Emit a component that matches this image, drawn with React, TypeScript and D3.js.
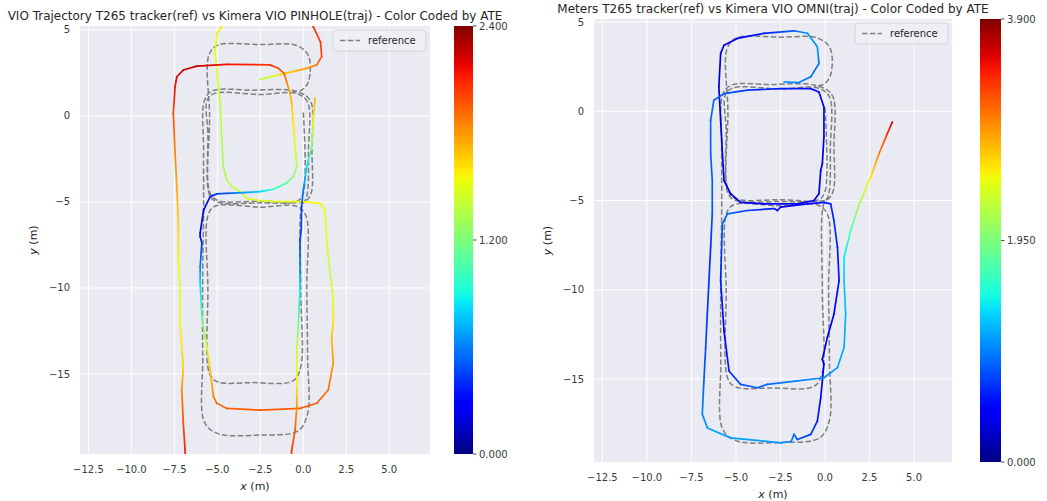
import React from "react";
import * as d3 from "d3";

// ---------------- DATA ----------------
const xTicks = [-12.5, -10, -7.5, -5, -2.5, 0, 2.5, 5];
const yTicks = [5, 0, -5, -10, -15];
const leftCbTicks = [0, 1.2, 2.4];
const rightCbTicks = [0, 1.95, 3.9];
const leftTitle = "VIO Trajectory T265 tracker(ref) vs Kimera VIO PINHOLE(traj) - Color Coded by ATE";
const rightTitle = "Meters T265 tracker(ref) vs Kimera VIO OMNI(traj) - Color Coded by ATE";
const legendLabel = "reference";

// reference (T265) trajectory [x, y]
const referencePath: [number, number][] = [
  [0.0, 0.2], [0.0, -4.5], [-0.35, -4.95], [-2.5, -5.05], [-5.0, -5.0], [-5.45, -4.6], [-5.55, -1.0],
  [-5.6, 0.9], [-5.2, 1.3], [-2.5, 1.25], [-0.4, 1.3], [0.25, 0.8], [0.3, -2.0], [0.2, -4.7],
  [-0.1, -5.3], [-0.15, -10.0], [-0.15, -14.6], [-0.6, -15.4], [-3.0, -15.5], [-5.0, -15.45],
  [-5.45, -15.0], [-5.55, -10.0], [-5.55, -5.8], [-5.15, -5.25], [-2.5, -5.3], [-0.4, -5.25],
  [0.15, -5.8], [0.2, -10.0], [0.25, -14.0], [0.25, -17.3], [-0.3, -18.3], [-2.5, -18.55],
  [-5.0, -18.45], [-5.75, -17.8], [-5.85, -14.0], [-5.85, -9.0], [-5.8, -5.5], [-5.8, -2.0],
  [-5.75, 0.9], [-5.3, 1.45], [-3.0, 1.5], [-0.5, 1.45], [0.4, 0.9], [0.5, -2.0], [0.45, -4.5],
  [0.1, -4.95], [-2.5, -4.95], [-5.0, -4.9], [-5.45, -4.4], [-5.45, 0.0], [-5.5, 3.5], [-5.0, 4.1],
  [-2.5, 4.15], [-0.4, 4.1], [0.3, 3.5], [0.3, 2.0], [-0.1, 1.5], [-0.6, 1.4],
];

// left estimate (PINHOLE) [x, y, ATE]
const leftTrajA: [number, number, number][] = [
  [0.4, 5.6, 2.1], [0.58, 5.19, 2.05], [1.0, 4.3, 2.05], [1.07, 3.45, 2.0], [0.78, 2.97, 1.9],
  [0.2, 2.77, 1.8], [-1.06, 2.48, 1.65], [-1.8, 2.3, 1.5], [-2.52, 2.13, 1.35],
];
const leftTrajB: [number, number, number][] = [
  [-4.6, 5.6, 1.55], [-4.74, 5.2, 1.55], [-5.03, 4.8, 1.55], [-5.13, 3.65, 1.5], [-4.94, 1.7, 1.45],
  [-4.84, 0.74, 1.4], [-4.74, -1.4, 1.35], [-4.65, -2.95, 1.3], [-4.45, -3.72, 1.35], [-4.16, -4.1, 1.4],
  [-3.68, -4.4, 1.4], [-3.29, -4.79, 1.45], [-2.52, -4.92, 1.45], [-1.55, -4.98, 1.5], [0.0, -4.98, 1.55],
  [0.97, -5.08, 1.55], [1.26, -5.47, 1.55], [1.36, -7.2, 1.5], [1.55, -9.1, 1.4], [1.74, -10.65, 1.5],
  [1.74, -12.0, 1.6], [1.65, -12.83, 1.7], [1.74, -14.38, 1.8], [1.45, -15.93, 1.9], [0.78, -16.7, 1.95],
  [-0.19, -17.0, 1.95], [-2.52, -17.1, 1.95], [-4.45, -17.0, 1.95], [-5.03, -16.7, 1.9], [-5.23, -16.3, 1.85],
  [-5.42, -14.77, 1.7], [-5.62, -13.4, 1.5], [-5.9, -11.67, 1.1], [-6.0, -9.7, 0.8], [-6.0, -8.76, 0.6],
  [-5.9, -7.4, 0.4], [-6.0, -7.0, 0.25], [-6.0, -6.8, 0.2], [-5.8, -5.47, 0.2], [-5.42, -4.69, 0.35],
  [-5.03, -4.53, 0.45], [-4.45, -4.5, 0.5], [-3.49, -4.46, 0.65], [-2.52, -4.4, 0.8], [-1.74, -4.26, 0.95],
  [-0.97, -3.9, 1.1], [-0.58, -3.53, 1.25], [-0.38, -2.95, 1.35], [-0.48, -1.78, 1.5], [-0.6, -0.23, 1.6],
  [-0.67, 0.74, 1.7], [-0.77, 1.3, 1.75], [-0.97, 2.0, 1.85], [-1.12, 2.48, 1.95], [-1.45, 2.77, 2.0],
  [-1.94, 2.97, 2.05], [-4.45, 3.0, 2.15], [-6.2, 2.9, 2.25], [-6.98, 2.67, 2.25], [-7.36, 2.28, 2.2],
  [-7.46, 1.7, 2.15], [-7.56, 0.16, 2.0], [-7.46, -2.17, 1.85], [-7.36, -4.1, 1.75], [-7.27, -6.24, 1.65],
  [-7.27, -8.18, 1.55], [-7.17, -10.1, 1.5], [-7.17, -12.05, 1.55], [-6.98, -14.6, 1.65], [-7.07, -15.9, 1.85],
  [-6.98, -17.86, 2.0], [-6.88, -19.4, 2.1], [-6.85, -20.3, 2.15],
];
const leftTrajC: [number, number, number][] = [
  [0.68, 1.03, 1.75], [0.58, -0.23, 1.55], [0.49, -1.78, 1.2], [0.2, -2.95, 0.85], [0.0, -4.3, 0.6],
  [-0.1, -5.27, 0.45], [-0.12, -6.63, 0.45], [-0.19, -7.2, 0.45], [-0.19, -9.1, 0.65], [-0.19, -10.1, 0.85],
  [-0.29, -12.05, 1.15], [-0.38, -13.6, 1.45], [-0.38, -15.5, 1.55], [-0.38, -16.9, 1.8], [-0.48, -18.26, 1.95],
  [-0.67, -19.4, 2.05], [-0.75, -20.3, 2.1],
];

// right estimate (OMNI) [x, y, ATE]
const rightTraj: [number, number, number][] = [
  [-2.3, 1.65, 1.1], [-1.5, 1.6, 1.0], [-0.8, 1.93, 0.9], [-0.34, 2.68, 0.95], [-0.43, 3.61, 1.05],
  [-0.99, 4.37, 1.05], [-1.74, 4.51, 0.85], [-3.43, 4.37, 0.6], [-4.92, 4.08, 0.45], [-5.67, 3.7, 0.35],
  [-5.86, 3.24, 0.35], [-5.96, 1.37, 0.3], [-5.86, -0.5, 0.3], [-5.76, -2.38, 0.35], [-5.67, -3.88, 0.35],
  [-5.3, -4.62, 0.4], [-4.74, -5.1, 0.4], [-3.43, -5.19, 0.45], [-1.55, -5.19, 0.45], [-0.62, -5.0, 0.4],
  [-0.34, -4.62, 0.35], [-0.24, -3.31, 0.35], [-0.15, -2.94, 0.35], [-0.06, -1.44, 0.4], [-0.06, 0.24, 0.45],
  [-0.34, 1.08, 0.5], [-0.8, 1.27, 0.55], [-2.49, 1.27, 0.6], [-4.36, 1.18, 0.7], [-5.67, 0.99, 0.8],
  [-6.24, 0.62, 0.9], [-6.42, -0.5, 0.9], [-6.42, -2.38, 0.85], [-6.33, -3.88, 0.85], [-6.33, -5.75, 0.8],
  [-6.42, -7.6, 0.65], [-6.61, -11.37, 0.7], [-6.7, -13.24, 0.75], [-6.8, -15.1, 0.85], [-6.89, -16.98, 1.0],
  [-6.6, -17.74, 1.1], [-5.3, -18.3, 1.1], [-3.43, -18.48, 1.1], [-2.49, -18.58, 1.05], [-1.9, -18.5, 0.95],
  [-1.74, -18.1, 0.9], [-1.55, -18.39, 0.8], [-0.8, -18.1, 0.7], [-0.43, -17.36, 0.6], [-0.24, -16.05, 0.5],
  [-0.06, -14.17, 0.35], [-0.15, -13.9, 0.35], [0.13, -12.68, 0.4], [0.5, -11.37, 0.45], [0.79, -9.49, 0.55],
  [0.7, -7.62, 0.6], [0.5, -6.12, 0.65], [0.32, -5.19, 0.6], [-0.06, -5.1, 0.55], [-0.99, -5.19, 0.5],
  [-2.49, -5.37, 0.5], [-2.67, -5.56, 0.55], [-2.85, -5.45, 0.6], [-4.36, -5.56, 0.7], [-5.48, -5.75, 0.9],
  [-5.76, -6.31, 0.85], [-5.86, -9.49, 0.6], [-5.67, -12.3, 0.45], [-5.39, -14.55, 0.6], [-4.74, -15.3, 0.8],
  [-3.8, -15.49, 0.85], [-3.24, -15.3, 0.9], [-1.55, -15.11, 1.0], [-0.06, -14.93, 1.05], [0.7, -14.36, 1.1],
  [1.07, -13.24, 1.15], [1.16, -11.37, 1.2], [1.07, -9.49, 1.25], [1.07, -8.18, 1.4], [1.44, -6.69, 1.7],
  [1.85, -5.4, 2.1], [2.47, -3.88, 2.5], [2.57, -3.69, 2.6], [3.03, -2.38, 3.0], [3.5, -1.25, 3.35],
  [3.78, -0.6, 3.7],
];

// ---------------- COLORMAP (matplotlib jet) ----------------
const JET_R = [[0, 0], [0.35, 0], [0.66, 1], [0.89, 1], [1, 0.5]];
const JET_G = [[0, 0], [0.125, 0], [0.375, 1], [0.64, 1], [0.91, 0], [1, 0]];
const JET_B = [[0, 0.5], [0.11, 1], [0.34, 1], [0.65, 0], [1, 0]];
function seg(p: number[][], t: number) {
  for (let i = 1; i < p.length; i++) {
    if (t <= p[i][0]) {
      const [t0, v0] = p[i - 1];
      const [t1, v1] = p[i];
      return v0 + ((t - t0) / (t1 - t0)) * (v1 - v0);
    }
  }
  return p[p.length - 1][1];
}
function jet(t: number) {
  const c = Math.max(0, Math.min(1, t));
  const r = Math.round(seg(JET_R, c) * 255);
  const g = Math.round(seg(JET_G, c) * 255);
  const b = Math.round(seg(JET_B, c) * 255);
  return `rgb(${r},${g},${b})`;
}

// ---------------- LAYOUT ----------------
const FONT = "DejaVu Sans, sans-serif";
const BG = "#EAEAF2";
const TEXT = "#262626";
const TICK = "#3a3a3a";

type PanelCfg = {
  id: string;
  title: string;
  ax: { x0: number; x1: number; y0: number; y1: number };
  xDom: [number, number];
  yDom: [number, number];
  cb: { x: number; w: number };
  cbMax: number;
  cbTicks: number[];
  trajs: [number, number, number][][];
};

const panels: PanelCfg[] = [
  {
    id: "L",
    title: leftTitle,
    ax: { x0: 80, x1: 430, y0: 26, y1: 454 },
    xDom: [-12.99, 7.37],
    yDom: [-19.65, 5.23],
    cb: { x: 454, w: 19 },
    cbMax: 2.4,
    cbTicks: leftCbTicks,
    trajs: [leftTrajA, leftTrajB, leftTrajC],
  },
  {
    id: "R",
    title: rightTitle,
    ax: { x0: 594, x1: 952, y0: 19, y1: 462 },
    xDom: [-12.97, 7.13],
    yDom: [-19.65, 5.17],
    cb: { x: 980, w: 21 },
    cbMax: 3.9,
    cbTicks: rightCbTicks,
    trajs: [rightTraj],
  },
];

const fmtTick = (v: number, dec: number) => {
  const s = Math.abs(v).toFixed(dec);
  return v < 0 ? "\u2212" + s : s;
};

function Panel({ cfg }: { cfg: PanelCfg }) {
  const { ax } = cfg;
  const x = d3.scaleLinear().domain(cfg.xDom).range([ax.x0, ax.x1]);
  const y = d3.scaleLinear().domain(cfg.yDom).range([ax.y1, ax.y0]);
  const cbScale = d3.scaleLinear().domain([0, cfg.cbMax]).range([ax.y1, ax.y0]);
  const refLine = d3
    .line<[number, number]>()
    .x((d) => x(d[0]))
    .y((d) => y(d[1]))
    .curve(d3.curveCatmullRom.alpha(0.5));
  const clipId = `clip-${cfg.id}`;
  const cbGradId = `cbg-${cfg.id}`;
  const stops = d3.range(0, 1.0001, 0.02);

  const grads: React.ReactNode[] = [];
  const lines: React.ReactNode[] = [];
  cfg.trajs.forEach((tr, si) => {
    for (let i = 1; i < tr.length; i++) {
      const p = tr[i - 1];
      const q = tr[i];
      const id = `g-${cfg.id}-${si}-${i}`;
      grads.push(
        <linearGradient key={id} id={id} gradientUnits="userSpaceOnUse" x1={x(p[0])} y1={y(p[1])} x2={x(q[0])} y2={y(q[1])}>
          <stop offset="0" stopColor={jet(p[2] / cfg.cbMax)} />
          <stop offset="1" stopColor={jet(q[2] / cfg.cbMax)} />
        </linearGradient>
      );
      lines.push(
        <line
          key={id}
          x1={x(p[0])}
          y1={y(p[1])}
          x2={x(q[0])}
          y2={y(q[1])}
          stroke={`url(#${id})`}
          strokeWidth={1.7}
          strokeLinecap="round"
        />
      );
    }
  });

  const cx = (ax.x0 + ax.x1) / 2;
  const cy = (ax.y0 + ax.y1) / 2;
  const lgW = 93;
  const lgH = 21;
  const lgX = ax.x1 - 4 - lgW;
  const lgY = ax.y0 + 4;

  return (
    <g fontFamily={FONT}>
      <defs>
        <clipPath id={clipId}>
          <rect x={ax.x0} y={ax.y0} width={ax.x1 - ax.x0} height={ax.y1 - ax.y0} />
        </clipPath>
        <linearGradient id={cbGradId} x1="0" y1="1" x2="0" y2="0">
          {stops.map((s) => (
            <stop key={s} offset={s} stopColor={jet(s)} />
          ))}
        </linearGradient>
        {grads}
      </defs>
      <rect x={ax.x0} y={ax.y0} width={ax.x1 - ax.x0} height={ax.y1 - ax.y0} fill={BG} />
      {xTicks.map((t) => (
        <line key={"gx" + t} x1={x(t)} x2={x(t)} y1={ax.y0} y2={ax.y1} stroke="#fff" strokeWidth={1} />
      ))}
      {yTicks.map((t) => (
        <line key={"gy" + t} x1={ax.x0} x2={ax.x1} y1={y(t)} y2={y(t)} stroke="#fff" strokeWidth={1} />
      ))}
      <g clipPath={`url(#${clipId})`}>
        <path d={refLine(referencePath) || ""} fill="none" stroke="#7f7f7f" strokeWidth={1.5} strokeDasharray="5.5,2.4" />
        {lines}
      </g>
      {/* tick labels */}
      {xTicks.map((t) => (
        <text key={"tx" + t} x={x(t)} y={ax.y1 + 18.5} fontSize={10} fill={TICK} textAnchor="middle">
          {fmtTick(t, 1)}
        </text>
      ))}
      {yTicks.map((t) => (
        <text key={"ty" + t} x={ax.x0 - 10} y={y(t) + 3.5} fontSize={10} fill={TICK} textAnchor="end">
          {fmtTick(t, 0)}
        </text>
      ))}
      {/* axis labels */}
      <text x={cx} y={ax.y1 + 36} fontSize={11} fill={TEXT} textAnchor="middle">
        <tspan fontStyle="italic">x</tspan> (m)
      </text>
      <text transform={`translate(${ax.x0 - 43},${cy}) rotate(-90)`} fontSize={11} fill={TEXT} textAnchor="middle">
        <tspan fontStyle="italic">y</tspan> (m)
      </text>
      {/* title */}
      <text x={cx} y={ax.y0 - 6} fontSize={12} fill={TEXT} textAnchor="middle">
        {cfg.title}
      </text>
      {/* legend */}
      <rect x={lgX} y={lgY} width={lgW} height={lgH} rx={3} fill="#EEEEF4" fillOpacity={0.85} stroke="#d4d4dc" strokeWidth={1} />
      <line x1={lgX + 7} x2={lgX + 27} y1={lgY + lgH / 2} y2={lgY + lgH / 2} stroke="#7f7f7f" strokeWidth={1.5} strokeDasharray="5.5,2.4" />
      <text x={lgX + 35} y={lgY + lgH / 2 + 3.5} fontSize={10} fill={TEXT}>
        {legendLabel}
      </text>
      {/* colorbar */}
      <rect x={cfg.cb.x} y={ax.y0} width={cfg.cb.w} height={ax.y1 - ax.y0} fill={`url(#${cbGradId})`} />
      {cfg.cbTicks.map((t) => (
        <g key={"cb" + t}>
          <line x1={cfg.cb.x + cfg.cb.w} x2={cfg.cb.x + cfg.cb.w + 3.5} y1={cbScale(t)} y2={cbScale(t)} stroke={TEXT} strokeWidth={0.8} />
          <text x={cfg.cb.x + cfg.cb.w + 6} y={cbScale(t) + 3.5} fontSize={10} fill={TICK}>
            {t.toFixed(3)}
          </text>
        </g>
      ))}
    </g>
  );
}

export default function App() {
  return (
    <svg width={1047} height={501} style={{ position: "absolute", left: 0, top: 0, background: "#fff" }}>
      <rect x={0} y={0} width={1047} height={501} fill="#fff" />
      {panels.map((p) => (
        <Panel key={p.id} cfg={p} />
      ))}
    </svg>
  );
}
